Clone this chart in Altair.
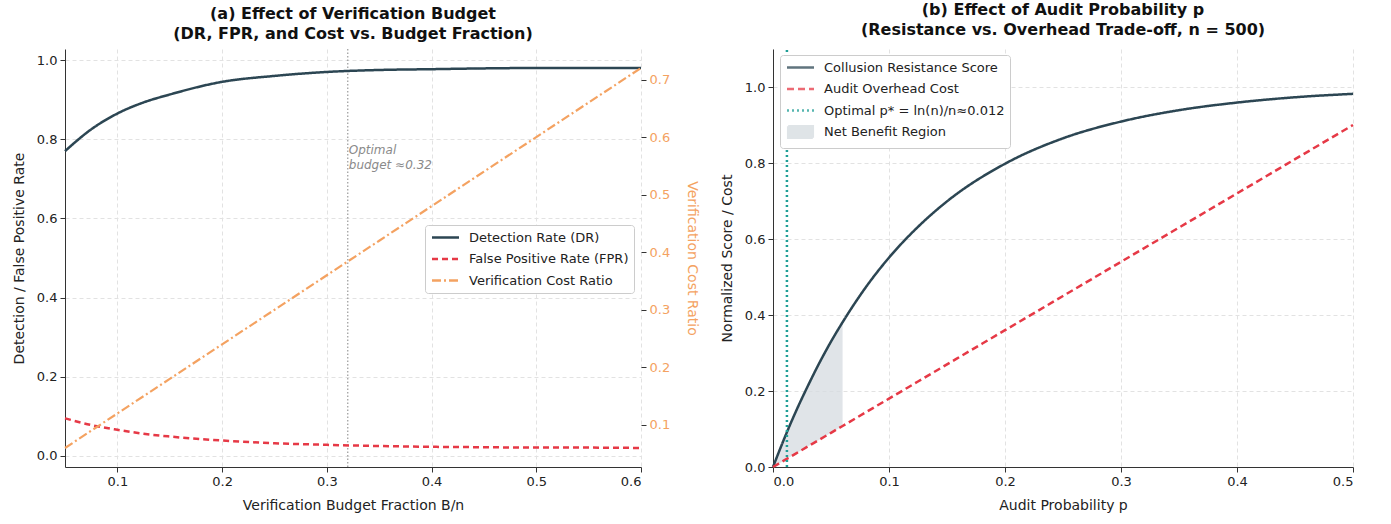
import altair as alt
import pandas as pd

# ---------------- Panel (a) data ----------------
budget = [0.05, 0.075, 0.1, 0.125, 0.15, 0.2, 0.25, 0.3, 0.35, 0.4, 0.45, 0.5, 0.55, 0.6]
dr = [0.77, 0.825, 0.865, 0.893, 0.913, 0.945, 0.96, 0.97, 0.975, 0.977, 0.979, 0.98, 0.98, 0.98]
fpr = [0.095, 0.078, 0.066, 0.056, 0.049, 0.039, 0.032, 0.028, 0.025, 0.023, 0.022, 0.021, 0.021, 0.02]
cost_ratio = [0.06, 0.09, 0.12, 0.15, 0.18, 0.24, 0.30, 0.36, 0.42, 0.48, 0.54, 0.60, 0.66, 0.72]
opt_budget = 0.32
annot_text = ["Optimal", "budget \u22480.32"]
annot_y = 0.785
names_a = ["Detection Rate (DR)", "False Positive Rate (FPR)", "Verification Cost Ratio"]
colors_a = ["#2c4653", "#e63946", "#f4a261"]
dash_a = [[1, 0], [6, 4], [9, 3, 2, 3]]

# ---------------- Panel (b) data ----------------
audit_p = [0, 0.01, 0.02, 0.03, 0.04, 0.05, 0.06, 0.08, 0.1, 0.125, 0.15, 0.2,
           0.25, 0.3, 0.35, 0.4, 0.45, 0.5]
resistance = [0, 0.077, 0.148, 0.213, 0.274, 0.33, 0.381, 0.473, 0.551, 0.632,
              0.699, 0.798, 0.865, 0.909, 0.939, 0.959, 0.973, 0.982]
overhead = [0, 0.018, 0.036, 0.054, 0.072, 0.09, 0.108, 0.144, 0.18, 0.225,
            0.27, 0.36, 0.45, 0.54, 0.63, 0.72, 0.81, 0.9]
opt_p = 0.012
opt_line_y = [0.0, 1.1]
benefit_end = 0.06
names_b = ["Collusion Resistance Score", "Audit Overhead Cost",
           "Optimal p* = ln(n)/n\u22480.012", "Net Benefit Region"]
colors_b = ["#2c4653", "#e63946", "#1f9e96", "#d5dbe0"]
dash_b = [[1, 0], [7, 4], [2, 3], [1, 0]]

FONT = "DejaVu Sans"
LINE_SYMBOL = "M-2.25,0H2.25"
RECT_SYMBOL = "M-2.05,-0.95H2.05V0.95H-2.05Z"

# ---------------- Panel (a) chart ----------------
df_a = pd.DataFrame({
    "B": budget * 2,
    "value": dr + fpr,
    "series": [names_a[0]] * len(budget) + [names_a[1]] * len(budget),
})
df_cost = pd.DataFrame({"B": budget, "cost": cost_ratio, "series": names_a[2]})
df_annot = pd.DataFrame({"B": [opt_budget], "y": [annot_y], "t": [annot_text]})

xa = alt.X("B:Q", scale=alt.Scale(domain=[0.05, 0.6], nice=False, zero=False),
           axis=alt.Axis(values=[0.1, 0.2, 0.3, 0.4, 0.5, 0.6], format=".1f",
                         title="Verification Budget Fraction B/n"))
ya_scale = alt.Scale(domain=[-0.028, 1.028], nice=False, zero=False)

legend_common = dict(orient="none", title=None, symbolSize=144, symbolStrokeWidth=2.5,
                     fillColor="white", strokeColor="#cccccc", cornerRadius=3,
                     padding=5, gridAlign="all", labelFontSize=13,
                     labelLimit=400, labelFont=FONT, labelColor="#222222",
                     symbolOffset=8, labelOffset=16)

color_a = alt.Color("series:N", scale=alt.Scale(domain=names_a, range=colors_a),
                    legend=alt.Legend(legendX=360, legendY=176, symbolType=LINE_SYMBOL,
                                      rowPadding=6.5, **legend_common))
dash_enc_a = alt.StrokeDash("series:N", scale=alt.Scale(domain=names_a, range=dash_a))

lines_a = alt.Chart(df_a).mark_line(strokeWidth=2.5, interpolate="monotone").encode(
    x=xa,
    y=alt.Y("value:Q", scale=ya_scale,
            axis=alt.Axis(values=[0, 0.2, 0.4, 0.6, 0.8, 1.0], format=".1f",
                          title="Detection / False Positive Rate")),
    color=color_a, strokeDash=dash_enc_a,
)
rule_a = alt.Chart(pd.DataFrame({"B": [opt_budget]})).mark_rule(
    color="#999999", strokeDash=[1.5, 2], strokeWidth=1.2).encode(x="B:Q")
text_a = alt.Chart(df_annot).mark_text(
    align="left", baseline="top", fontStyle="italic", font=FONT, fontSize=12,
    color="#8a8a8a", dx=1, lineHeight=15).encode(
    x="B:Q", y=alt.Y("y:Q", scale=ya_scale), text="t")
cost_a = alt.Chart(df_cost).mark_line(strokeWidth=2.2).encode(
    x=xa,
    y=alt.Y("cost:Q", scale=alt.Scale(domain=[0.027, 0.753], nice=False, zero=False),
            axis=alt.Axis(orient="right", values=[0.1, 0.2, 0.3, 0.4, 0.5, 0.6, 0.7],
                          format=".1f", grid=False, domain=False, titlePadding=15,
                          labelColor="#f4a261", titleColor="#f4a261",
                          title="Verification Cost Ratio")),
    color=color_a, strokeDash=dash_enc_a,
)

left = alt.layer(alt.layer(rule_a, lines_a, text_a), cost_a).resolve_scale(
    y="independent").properties(
    width=576, height=418,
    title=alt.TitleParams(["(a) Effect of Verification Budget",
                           "(DR, FPR, and Cost vs. Budget Fraction)"],
                          fontSize=16, fontWeight="bold", font=FONT, anchor="middle",
                          offset=6, lineHeight=20, color="#111111"))

# ---------------- Panel (b) chart ----------------
n = len(audit_p)
df_b = pd.DataFrame({
    "p": audit_p * 2 + [opt_p, opt_p],
    "v": resistance + overhead + opt_line_y,
    "series": [names_b[0]] * n + [names_b[1]] * n + [names_b[2]] * 2,
})
idx = [i for i, p in enumerate(audit_p) if p <= benefit_end]
df_area = pd.DataFrame({
    "p": [audit_p[i] for i in idx],
    "top": [resistance[i] for i in idx],
    "bot": [overhead[i] for i in idx],
    "series": names_b[3],
})

xb = alt.X("p:Q", scale=alt.Scale(domain=[0, 0.5], nice=False),
           axis=alt.Axis(values=[0, 0.1, 0.2, 0.3, 0.4, 0.5], format=".1f",
                         title="Audit Probability p"))
yb_scale = alt.Scale(domain=[0, 1.1], nice=False)
is_nbr = "datum.value == 'Net Benefit Region'"
color_b = alt.Color("series:N", scale=alt.Scale(domain=names_b, range=colors_b),
                    legend=alt.Legend(legendX=7, legendY=6, rowPadding=-1.5,
                                      symbolType=alt.ExprRef(
                                          f"{is_nbr} ? '{RECT_SYMBOL}' : '{LINE_SYMBOL}'"),
                                      symbolFillColor=alt.ExprRef(
                                          f"{is_nbr} ? '#d5dbe0' : 'transparent'"),
                                      **legend_common))
dash_enc_b = alt.StrokeDash("series:N", scale=alt.Scale(domain=names_b, range=dash_b))

area_b = alt.Chart(df_area).mark_area(opacity=0.75, interpolate="monotone").encode(
    x=xb, y=alt.Y("top:Q", scale=yb_scale), y2="bot:Q", color=color_b)
lines_b = alt.Chart(df_b).mark_line(strokeWidth=2.5, interpolate="monotone").encode(
    x=xb,
    y=alt.Y("v:Q", scale=yb_scale,
            axis=alt.Axis(values=[0, 0.2, 0.4, 0.6, 0.8, 1.0], format=".1f",
                          title="Normalized Score / Cost")),
    color=color_b, strokeDash=dash_enc_b,
)

right = alt.layer(area_b, lines_b).properties(
    width=580, height=418,
    title=alt.TitleParams(["(b) Effect of Audit Probability p",
                           "(Resistance vs. Overhead Trade-off, n = 500)"],
                          fontSize=16, fontWeight="bold", font=FONT, anchor="middle",
                          offset=6, lineHeight=20, color="#111111"))

chart = alt.hconcat(left, right, spacing=21).resolve_scale(
    color="independent", strokeDash="independent").resolve_legend(
    color="independent", strokeDash="independent").properties(
    background="white", padding={"left": 12, "right": 5, "top": 2, "bottom": 5}
).configure_view(stroke=None).configure_axis(
    labelFont=FONT, titleFont=FONT, labelFontSize=13, titleFontSize=14,
    titleFontWeight="normal", labelColor="#222222", titleColor="#222222",
    domainColor="#333333", tickColor="#333333", gridColor="#e2e2e2",
    gridDash=[4, 3], tickSize=5, labelPadding=3, titlePadding=10,
)

chart.save("out.html", embed_options={"renderer": "svg", "actions": False})
